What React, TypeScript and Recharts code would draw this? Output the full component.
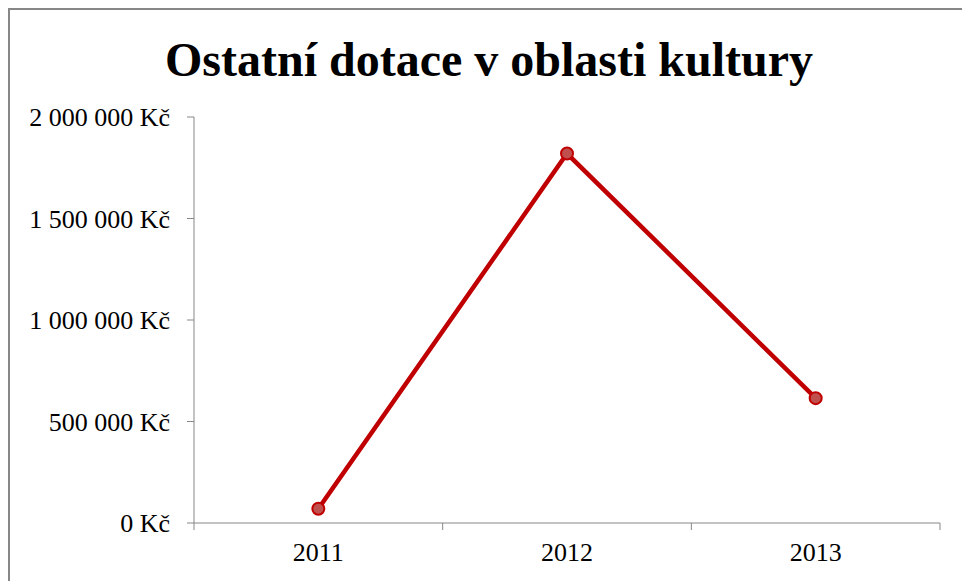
import { CartesianGrid, Line, LineChart, XAxis, YAxis } from "recharts";

const years = ["2011", "2012", "2013"];
const dotace = [70000, 1820000, 615000];
const yTicks = [0, 500000, 1000000, 1500000, 2000000];

const data = years.map((year, i) => ({ year, value: dotace[i] }));

const axisColor = "#878787";
const font = "'Liberation Serif', 'Times New Roman', serif";

function formatKc(v: number) {
  const s = String(Math.round(v)).replace(/\B(?=(\d{3})+(?!\d))/g, " ");
  return `${s} Kč`;
}

// category label at band center, tick mark at the band boundaries (Excel style)
function YearTick(props: any) {
  const { x, y, payload, index, visibleTicksCount } = props;
  const band = 746 / years.length;
  const axisY = y - 20;
  return (
    <g>
      <line x1={x - band / 2} y1={axisY} x2={x - band / 2} y2={axisY + 7} stroke={axisColor} />
      {index === visibleTicksCount - 1 && (
        <line x1={x + band / 2} y1={axisY} x2={x + band / 2} y2={axisY + 7} stroke={axisColor} />
      )}
      <text x={x} y={y} dy="0.71em" textAnchor="middle" fill="#000" fontSize={26} fontFamily={font}>
        {payload.value}
      </text>
    </g>
  );
}

export default function App() {
  return (
    <div style={{ position: "absolute", left: 0, top: 0, width: 962, height: 581, background: "#fff", overflow: "hidden" }}>
      <div
        style={{
          position: "absolute",
          left: 8,
          top: 8,
          width: 1000,
          height: 600,
          borderTop: `2px solid ${axisColor}`,
          borderLeft: `2px solid ${axisColor}`,
        }}
      />
      <div
        style={{
          position: "absolute",
          left: 0,
          width: 978,
          top: 30,
          textAlign: "center",
          fontFamily: font,
          fontWeight: "bold",
          fontSize: 48,
          lineHeight: "60px",
          color: "#000",
        }}
      >
        Ostatní dotace v oblasti kultury
      </div>
      <LineChart
        width={962}
        height={581}
        data={data}
        margin={{ top: 117, right: 22, bottom: 28, left: 0 }}
        style={{ position: "absolute", left: 0, top: 0 }}
      >
        <CartesianGrid stroke="none" />
        <XAxis
          dataKey="year"
          scale="band"
          height={30}
          stroke={axisColor}
          tickLine={false}
          tickSize={7}
          tickMargin={13}
          tick={<YearTick />}
          interval={0}
        />
        <YAxis
          width={194}
          domain={[0, 2000000]}
          ticks={yTicks}
          tickFormatter={formatKc}
          stroke={axisColor}
          tickSize={7}
          tickMargin={17}
          tick={{ fill: "#000", fontSize: 26, fontFamily: font }}
        />
        <Line
          type="linear"
          dataKey="value"
          stroke="#c00000"
          strokeWidth={4.5}
          dot={{ r: 6, fill: "#c0504d", stroke: "#c00000", strokeWidth: 2 }}
          isAnimationActive={false}
        />
      </LineChart>
    </div>
  );
}
